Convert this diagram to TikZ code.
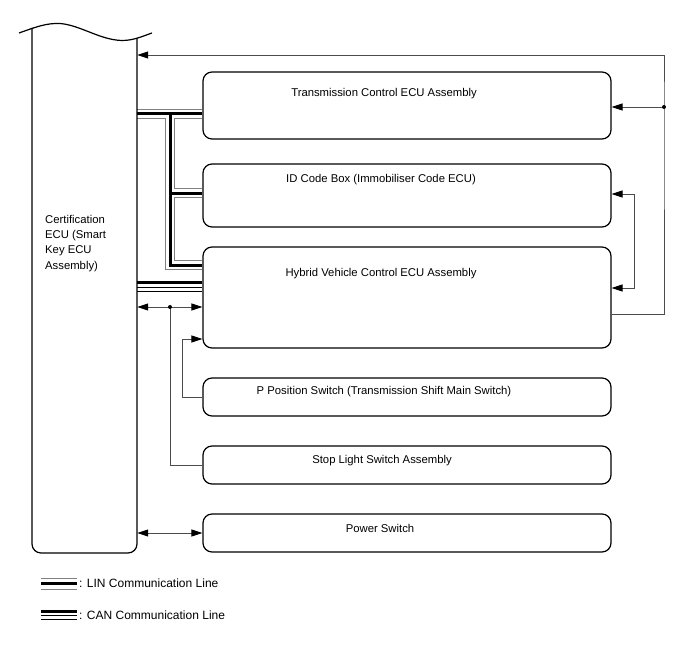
\documentclass[tikz,border=0pt]{standalone}
\usepackage{fontspec}
\setmainfont{Liberation Sans}
\usetikzlibrary{arrows.meta,backgrounds}

\begin{document}
\begin{tikzpicture}[x=1pt,y=-1pt,>={Triangle[length=11pt,width=7pt,color=black]},
  ecubox/.style={draw,rounded corners=9pt,line width=1.2pt,inner sep=0pt,minimum width=408pt},
  wire/.style={line width=0.9pt,black!70},
  lbl/.style={font=\fontsize{11.3}{15.3}\selectfont}]
  \useasboundingbox (0,0) rectangle (688,658);
  % Certification ECU
  \node[inner sep=0pt,minimum width=105pt,minimum height=520pt] (cert) at (84.5,293) {};
  \draw[line width=1.2pt] (19,33) .. controls (36,27) and (46,23) .. (60,23.5)
    .. controls (80,25) and (100,40) .. (122,40.5) .. controls (134,40.5) and (143,36) .. (152,33);
  \draw[line width=1.2pt,rounded corners=9pt] (32,28) -- (32,553) -- (137,553) -- (137,38);
  \node[lbl,align=left,anchor=north west,inner sep=0pt] (certtxt) at (45,215)
    {Certification\\ECU (Smart\\Key ECU\\Assembly)};
  % ECUs and switches
  \node[ecubox,minimum height=67pt] (tcm) at (407,105.5) {};
  \node[ecubox,minimum height=63pt] (idb) at (407,195.5) {};
  \node[ecubox,minimum height=101pt] (hv) at (407,297.5) {};
  \node[ecubox,minimum height=38pt] (pps) at (407,397) {};
  \node[ecubox,minimum height=38pt] (stop) at (407,465) {};
  \node[ecubox,minimum height=38pt] (pwr) at (407,533) {};
  \node[lbl] (tcmtxt) at (384,94) {Transmission Control ECU Assembly};
  \node[lbl] (idbtxt) at (381,180) {ID Code Box (Immobiliser Code ECU)};
  \node[lbl] (hvtxt) at (381,274) {Hybrid Vehicle Control ECU Assembly};
  \node[lbl] (ppstxt) at (384,392) {P Position Switch (Transmission Shift Main Switch)};
  \node[lbl] (stoptxt) at (382,461) {Stop Light Switch Assembly};
  \node[lbl] (pwrtxt) at (380,528) {Power Switch};
  % LIN / CAN
  \begin{pgfonlayer}{background}
    \foreach \w/\clr in {10/black!50,8/white,3/black}
      \draw[line width=\w pt,color=\clr] (cert.east |- 0,114) -- (tcm.west |- 0,114)
        (170,114) |- (hv.west |- 0,265)
        (170,193) -- (idb.west |- 0,193);
    \draw[line width=3pt] (cert.east |- 0,282) -- (hv.west |- 0,282);
    \draw[line width=1pt] (cert.east |- 0,287) -- (hv.west |- 0,287);
    \draw[line width=1pt] (cert.east |- 0,291) -- (hv.west |- 0,291);
  \end{pgfonlayer}
  % right side
  \coordinate (rdot) at (664,107);
  \draw[wire,->] (hv.east |- 0,314) -| (rdot) |- (cert.east |- 0,55);
  \draw[wire,->] (rdot) -- (tcm.east |- rdot);
  \fill (rdot) circle (2pt);
  \draw[wire,<->] (idb.east |- 0,194) -- ++(23,0) |- (hv.east |- 0,288);
  % left side
  \coordinate (ldot) at (170,307);
  \draw[wire,<->] (cert.east |- ldot) -- (hv.west |- ldot);
  \draw[wire] (ldot) |- (stop.west);
  \fill (ldot) circle (2pt);
  \draw[wire,->] (pps.west) -- ++(-20,0) |- (hv.west |- 0,339);
  \draw[wire,<->] (cert.east |- pwr.west) -- (pwr.west);
  % legend
  \draw[black!50,line width=1pt] (41,578) -- (77,578) (41,589) -- (77,589);
  \draw[line width=3pt] (41,583.5) -- (77,583.5);
  \node[lbl,font=\fontsize{12}{15}\selectfont,anchor=west,inner sep=0pt] (lintxt) at (79,583) {: LIN Communication Line};
  \draw[line width=3pt] (41,611.5) -- (77,611.5);
  \draw[line width=1pt] (41,615.8) -- (77,615.8) (41,619.4) -- (77,619.4);
  \node[lbl,font=\fontsize{12}{15}\selectfont,anchor=west,inner sep=0pt] (cantxt) at (79,615) {: CAN Communication Line};
\end{tikzpicture}
\end{document}
